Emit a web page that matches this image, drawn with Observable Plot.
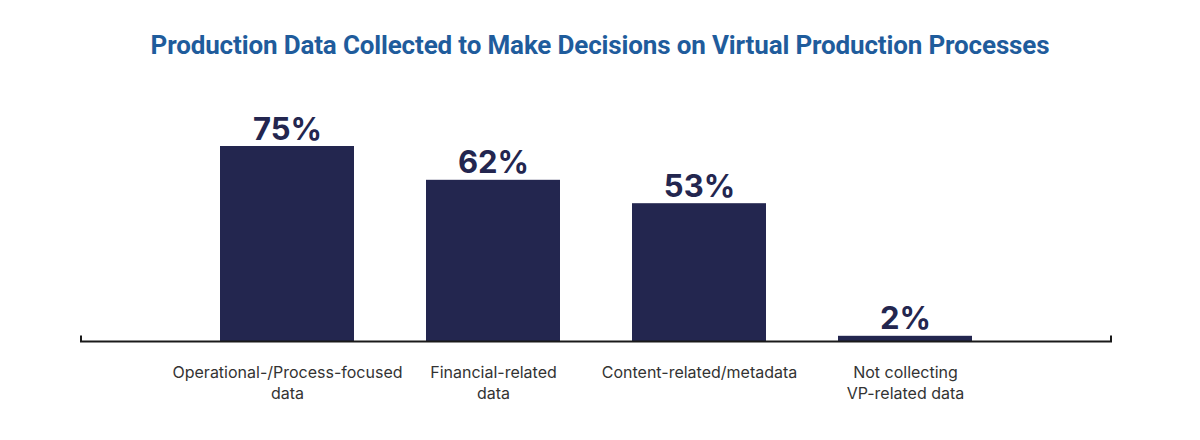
<!DOCTYPE html>
<html>
<head>
<meta charset="utf-8">
<script src="https://cdn.jsdelivr.net/npm/d3@7"></script>
<script src="https://cdn.jsdelivr.net/npm/@observablehq/plot@0.6"></script>
<style>
  html, body { margin: 0; padding: 0; background: #fff; }
  #title { height: 90px; line-height: 90px; text-align: center; font-family: Roboto, sans-serif; font-weight: 700; font-size: 26px; color: #1f5c9c; letter-spacing: -0.15px; }
  #chart svg { display: block; }
</style>
</head>
<body>
<div id="title">Production Data Collected to Make Decisions on Virtual Production Processes</div>
<div id="chart"></div>
<script>
const categories = ["Operational", "Financial", "Content", "Not collecting"];
const tickLabels = ["Operational-/Process-focused\ndata", "Financial-related\ndata", "Content-related/metadata", "Not collecting\nVP-related data"];
const values = [75, 62, 53, 2];

const data = categories.map((c, i) => ({category: c, value: values[i], label: tickLabels[i]}));

const axisLine = (index, scales, values, dimensions) => {
  const y0 = scales.y(0) + 0.5;
  const x1 = dimensions.marginLeft;
  const x2 = dimensions.width - dimensions.marginRight;
  const path = d3.create("svg:path")
    .attr("d", `M${x1},${y0 - 6}V${y0}H${x2}V${y0 - 6}`)
    .attr("fill", "none")
    .attr("stroke", "#1a1a1a")
    .attr("stroke-width", 2);
  return path.node();
};

const chart = Plot.plot({
  width: 1200,
  height: 350,
  marginLeft: 81,
  marginRight: 89,
  marginTop: 56,
  marginBottom: 99,
  style: {fontFamily: "Inter, sans-serif", background: "#fff"},
  x: {domain: categories, paddingInner: 0.35, paddingOuter: 0.675, axis: null},
  y: {domain: [0, 75], axis: null},
  marks: [
    Plot.barY(data, {x: "category", y: "value", fill: "#23264f"}),
    axisLine,
    Plot.text(data, {x: "category", y: "value", text: d => d.value + "%", lineAnchor: "bottom", dy: -7, fontSize: 31, fontWeight: 700, fill: "#23264f"}),
    Plot.axisX({tickSize: 0, tickPadding: 22, label: null, tickFormat: d => tickLabels[categories.indexOf(d)], fontSize: 16, fill: "#333", lineHeight: 1.3})
  ]
});
document.getElementById("chart").appendChild(chart);
</script>
</body>
</html>
